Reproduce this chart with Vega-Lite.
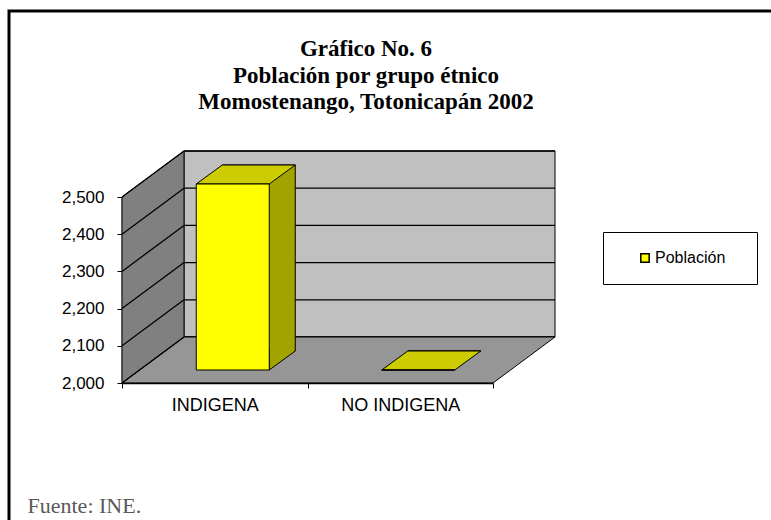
{
  "$schema": "https://vega.github.io/schema/vega-lite/v6.json",
  "autosize": {"type": "none"},
  "padding": {"left": 9, "top": 11, "right": 0, "bottom": 0},
  "width": 762,
  "height": 509,
  "background": "white",
  "config": {
    "view": {"stroke": "black", "strokeWidth": 3, "strokeDash": [762, 1271, 509], "fill": "white"},
    "font": "Liberation Sans"
  },
  "title": {
    "text": ["Gráfico No. 6", "Población por grupo étnico", "Momostenango, Totonicapán 2002"],
    "font": "Liberation Serif",
    "fontSize": 23,
    "fontWeight": "bold",
    "color": "black",
    "lineHeight": 26.5,
    "anchor": "middle",
    "dx": -24,
    "offset": -103
  },
  "data": {"values": [
    {"grupo": "INDIGENA", "poblacion": 2500},
    {"grupo": "NO INDIGENA", "poblacion": 2000}
  ]},
  "layer": [
    {
      "data": {"values": [{}]},
      "mark": {"type": "rect", "fill": "#C0C0C0", "stroke": "black", "strokeWidth": 1, "opacity": 1,
               "xOffset": 62, "x2Offset": 62, "yOffset": -46, "y2Offset": -46},
      "encoding": {
        "x": {"datum": "INDIGENA", "type": "nominal", "bandPosition": 0,
              "scale": {"type": "band", "domain": ["INDIGENA", "NO INDIGENA"], "range": [113, 484], "paddingInner": 0, "paddingOuter": 0},
              "axis": {"orient": "bottom", "offset": -137, "tickBand": "extent", "domainColor": "black", "domainWidth": 1.5,
                       "tickColor": "black", "tickSize": 5, "labelFont": "Liberation Sans", "labelFontSize": 18, "labelColor": "black",
                       "labelPadding": 8, "labelAngle": 0, "grid": false,
                       "title": "Fuente: INE.", "titleFont": "Liberation Serif", "titleFontSize": 22, "titleFontWeight": "normal",
                       "titleColor": "#595959", "titleX": 18, "titleY": 129, "titleAlign": "left", "titleBaseline": "alphabetic"}},
        "x2": {"datum": "NO INDIGENA", "bandPosition": 1},
        "y": {"datum": 2000, "type": "quantitative",
              "scale": {"type": "linear", "domain": [2000, 2500], "range": [372, 186], "zero": false, "nice": false},
              "axis": {"orient": "left", "offset": -113, "values": [2000, 2100, 2200, 2300, 2400, 2500], "format": ",d",
                       "domainColor": "black", "domainWidth": 1.5, "tickColor": "black", "tickSize": 5, "labelFont": "Liberation Sans",
                       "labelFontSize": 17, "labelColor": "black", "labelPadding": 13, "title": null, "grid": false}},
        "y2": {"datum": 2500}
      }
    },
    {
      "data": {"values": [{"t": 2000}, {"t": 2100}, {"t": 2200}, {"t": 2300}, {"t": 2400}, {"t": 2500}]},
      "mark": {"type": "rule", "color": "black", "strokeWidth": 1.3, "xOffset": 62, "x2Offset": 62, "yOffset": -46},
      "encoding": {
        "x": {"datum": "INDIGENA", "type": "nominal", "bandPosition": 0},
        "x2": {"datum": "NO INDIGENA", "bandPosition": 1},
        "y": {"field": "t", "type": "quantitative"}
      }
    },
    {
      "data": {"values": [{}]},
      "mark": {"type": "point", "shape": "M0,0 L371,0 L433,-46 L62,-46 Z", "size": 4, "filled": true, "fill": "#969696",
               "stroke": "black", "strokeWidth": 1, "opacity": 1},
      "encoding": {
        "x": {"datum": "INDIGENA", "type": "nominal", "bandPosition": 0},
        "y": {"datum": 2000, "type": "quantitative"}
      }
    },
    {
      "data": {"values": [{}]},
      "mark": {"type": "point", "shape": "M0,0 L62,-46 L62,-232 L0,-186 Z", "size": 4, "filled": true, "fill": "#808080",
               "stroke": "black", "strokeWidth": 1, "opacity": 1},
      "encoding": {
        "x": {"datum": "INDIGENA", "type": "nominal", "bandPosition": 0},
        "y": {"datum": 2000, "type": "quantitative"}
      }
    },
    {
      "data": {"values": [{"t": 2000}, {"t": 2100}, {"t": 2200}, {"t": 2300}, {"t": 2400}, {"t": 2500}]},
      "mark": {"type": "rule", "color": "black", "strokeWidth": 1.3, "x2Offset": 62, "y2Offset": -46},
      "encoding": {
        "x": {"datum": "INDIGENA", "type": "nominal", "bandPosition": 0},
        "x2": {"datum": "INDIGENA", "bandPosition": 0},
        "y": {"field": "t", "type": "quantitative"},
        "y2": {"field": "t"}
      }
    },
    {
      "mark": {"type": "bar", "width": 73, "fill": "#A3A300", "stroke": "black", "strokeWidth": 1, "opacity": 1,
               "xOffset": 44, "x2Offset": 44, "yOffset": -32, "y2Offset": -32},
      "encoding": {
        "x": {"field": "grupo", "type": "nominal"},
        "y": {"field": "poblacion", "type": "quantitative"},
        "y2": {"datum": 2000}
      }
    },
    {
      "transform": [{"filter": "datum.poblacion > 2000"}],
      "mark": {"type": "point", "shape": "M54.5,-33 L54.5,-13 L80.5,-32 L80.5,-33", "size": 4, "filled": true, "fill": "#A3A300",
               "stroke": "black", "strokeWidth": 1, "opacity": 1},
      "encoding": {
        "x": {"field": "grupo", "type": "nominal"},
        "y": {"datum": 2000, "type": "quantitative"}
      }
    },
    {
      "mark": {"type": "point", "shape": "M-18.5,-13 L54.5,-13 L80.5,-32 L7.5,-32 Z", "size": 4, "filled": true, "fill": "#CCCC00",
               "stroke": "black", "strokeWidth": 1, "opacity": 1},
      "encoding": {
        "x": {"field": "grupo", "type": "nominal"},
        "y": {"field": "poblacion", "type": "quantitative"}
      }
    },
    {
      "mark": {"type": "bar", "width": 73, "stroke": "black", "strokeWidth": 1, "opacity": 1,
               "xOffset": 18, "x2Offset": 18, "yOffset": -13, "y2Offset": -13},
      "encoding": {
        "x": {"field": "grupo", "type": "nominal"},
        "y": {"field": "poblacion", "type": "quantitative"},
        "y2": {"datum": 2000},
        "color": {"datum": "Población", "type": "nominal",
                  "scale": {"range": ["#FFFF00"]},
                  "legend": {"orient": "none", "legendX": 594, "legendY": 221, "title": null,
                             "strokeColor": "black", "fillColor": "white", "padding": 18,
                             "symbolType": "square", "symbolSize": 70, "symbolStrokeColor": "black", "symbolStrokeWidth": 1.5,
                             "symbolOpacity": 1, "symbolOffset": 16, "labelOffset": 2,
                             "labelFont": "Liberation Sans", "labelFontSize": 16, "labelColor": "black",
                             "labelExpr": "datum.label + '\u00a0\u00a0\u00a0\u200b'"}}
      }
    }
  ]
}
